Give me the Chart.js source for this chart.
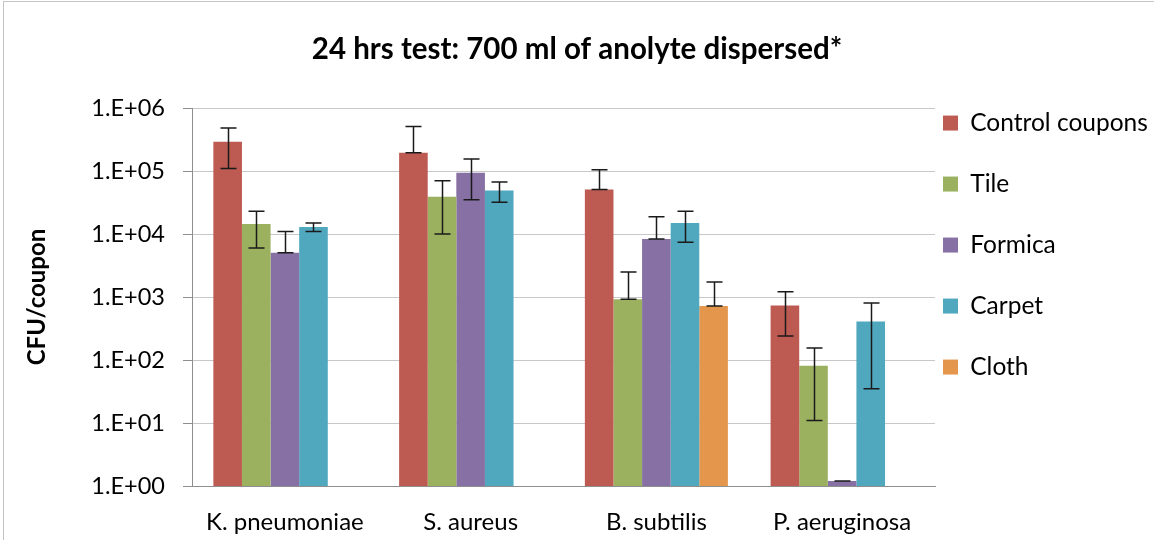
<!DOCTYPE html>
<html>
<head>
<meta charset="utf-8">
<script src="https://cdn.jsdelivr.net/npm/chart.js@4.4.1/dist/chart.umd.min.js"></script>
<style>
  html, body { margin: 0; padding: 0; background: #fff; }
  #wrap { position: relative; width: 1154px; height: 540px; overflow: hidden; }
  #frame { position: absolute; left: 3px; top: 1px; width: 1160px; height: 600px;
           border-top: 1px solid #c4c4c4; border-left: 1px solid #c4c4c4; pointer-events: none; }
  canvas { position: absolute; left: 0; top: 0; }
</style>
</head>
<body>
<div id="wrap">
  <canvas id="chart" width="1154" height="540"></canvas>
  <div id="frame"></div>
</div>
<script>
const categories = ['K. pneumoniae', 'S. aureus', 'B. subtilis', 'P. aeruginosa'];

const control   = [290000, 195000, 51000, 730];
const controlHi = [480000, 510000, 105000, 1210];
const controlLo = [110000, 195000, 51000, 240];

const tile   = [14400, 39000, 920, 81];
const tileHi = [23000, 70000, 2500, 155];
const tileLo = [6000, 10000, 920, 11];

const formica   = [5050, 94000, 8300, 1.2];
const formicaHi = [11000, 155000, 18700, 1.2];
const formicaLo = [5050, 35000, 8300, 1.2];

const carpet   = [12900, 49000, 15000, 410];
const carpetHi = [15000, 67000, 23000, 800];
const carpetLo = [11000, 32000, 7400, 35];

const cloth   = [null, null, 720, null];
const clothHi = [null, null, 1730, null];
const clothLo = [null, null, 720, null];

const yTickValues = [1, 10, 100, 1000, 10000, 100000, 1000000];
const yTickLabels = ['1.E+00', '1.E+01', '1.E+02', '1.E+03', '1.E+04', '1.E+05', '1.E+06'];

const FONT = 'Lato, "Open Sans", sans-serif';

function series(label, data, hi, lo, color) {
    return {
        label: label,
        data: data,
        errorHigh: hi,
        errorLow: lo,
        backgroundColor: color,
        borderWidth: 0,
        categoryPercentage: 0.77,
        barPercentage: 1.0
    };
}

// draws the whiskers from errorLow to errorHigh on each bar
const errorBars = {
    id: 'errorBars',
    afterDatasetsDraw(chart) {
        const ctx = chart.ctx;
        const yScale = chart.scales.y;
        ctx.save();
        ctx.strokeStyle = '#1a1a1a';
        ctx.lineWidth = 1.5;
        chart.data.datasets.forEach((ds, i) => {
            const meta = chart.getDatasetMeta(i);
            meta.data.forEach((bar, j) => {
                const hi = ds.errorHigh[j];
                const lo = ds.errorLow[j];
                if (hi == null || lo == null) return;
                const x = Math.round(bar.x) + 0.5;
                const yHi = yScale.getPixelForValue(hi);
                const yLo = yScale.getPixelForValue(lo);
                const cap = 8;
                ctx.beginPath();
                ctx.moveTo(x, yHi);
                ctx.lineTo(x, yLo);
                ctx.moveTo(x - cap, yHi);
                ctx.lineTo(x + cap, yHi);
                ctx.moveTo(x - cap, yLo);
                ctx.lineTo(x + cap, yLo);
                ctx.stroke();
            });
        });
        ctx.restore();
    }
};

new Chart(document.getElementById('chart').getContext('2d'), {
    type: 'bar',
    data: {
        labels: categories,
        datasets: [
            series('Control coupons', control, controlHi, controlLo, '#bd5b53'),
            series('Tile', tile, tileHi, tileLo, '#9cb160'),
            series('Formica', formica, formicaHi, formicaLo, '#8670a4'),
            series('Carpet', carpet, carpetHi, carpetLo, '#50a8bf'),
            series('Cloth', cloth, clothHi, clothLo, '#e4964d')
        ]
    },
    options: {
        responsive: false,
        animation: false,
        devicePixelRatio: 1,
        layout: {
            padding: {left: 0, right: 0, top: 0, bottom: 4}
        },
        plugins: {
            title: {
                display: true,
                text: '24 hrs test: 700 ml of anolyte dispersed*',
                color: '#000',
                font: {family: FONT, size: 29.5, weight: 'bold'},
                padding: {top: 32, bottom: 40.6}
            },
            legend: {
                position: 'right',
                align: 'start',
                maxWidth: 219,
                // empty title only pushes the first row down
                title: {display: true, text: '', font: {size: 12}, padding: {top: 88.4, bottom: 0}},
                labels: {
                    color: '#000',
                    boxWidth: 15,
                    boxHeight: 15,
                    padding: 8,
                    font: {family: FONT, size: 24.5, lineHeight: '53px'},
                    // text as a one-line array so the row height follows font.lineHeight
                    generateLabels(chart) {
                        return chart.data.datasets.map((ds, i) => ({
                            text: [ds.label],
                            fillStyle: ds.backgroundColor,
                            strokeStyle: ds.backgroundColor,
                            fontColor: '#000',
                            lineWidth: 0,
                            hidden: false,
                            datasetIndex: i
                        }));
                    }
                }
            },
            tooltip: {enabled: false}
        },
        scales: {
            x: {
                grid: {display: false, drawTicks: false},
                border: {display: true, color: '#8e8e8e', width: 1},
                afterFit(scale) {
                    scale.height = 50;
                },
                ticks: {
                    color: '#000',
                    padding: 21.6,
                    font: {family: FONT, size: 24}
                }
            },
            y: {
                type: 'logarithmic',
                min: 1,
                max: 1000000,
                afterBuildTicks(scale) {
                    scale.ticks = yTickValues.map(v => ({value: v}));
                },
                afterFit(scale) {
                    scale.width = 192;
                },
                grid: {
                    color: '#c8c8c8',
                    lineWidth: 1,
                    tickLength: 9,
                    tickColor: '#8e8e8e'
                },
                border: {display: true, color: '#8e8e8e', width: 1},
                ticks: {
                    color: '#000',
                    padding: 18,
                    font: {family: FONT, size: 23.5},
                    callback: (v) => {
                        const k = yTickValues.indexOf(v);
                        return k >= 0 ? yTickLabels[k] : '';
                    }
                },
                title: {
                    display: true,
                    text: 'CFU/coupon',
                    color: '#000',
                    font: {family: FONT, size: 24, weight: 'bold'},
                    padding: {top: 22.6, bottom: 0}
                }
            }
        }
    },
    plugins: [errorBars]
});
</script>
</body>
</html>
